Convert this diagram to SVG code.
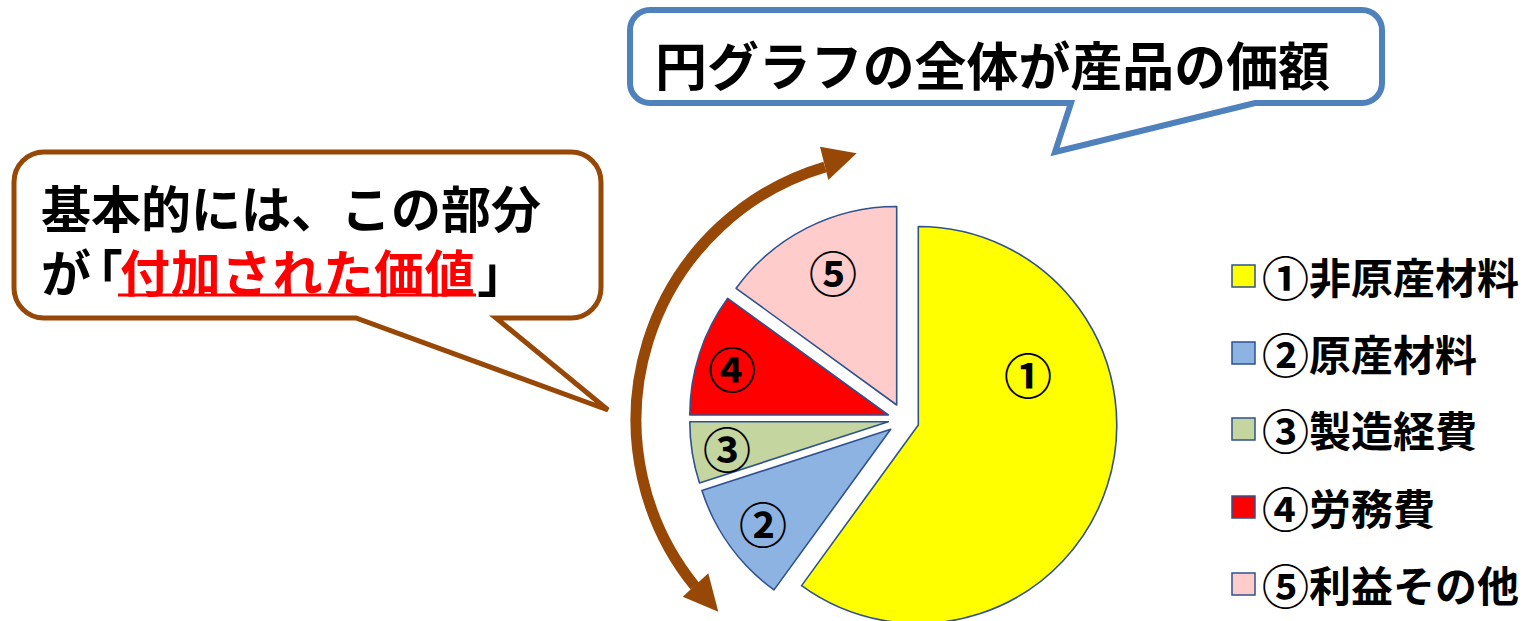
<svg xmlns="http://www.w3.org/2000/svg" width="1528" height="621" viewBox="0 0 1528 621">
<style>
.t{font-family:"Noto Sans CJK JP","Noto Sans CJK SC",sans-serif;font-weight:700;fill:#000}
.p{font-feature-settings:"palt"}
.sl{stroke:#2F528F;stroke-width:1.6;stroke-linejoin:round}
.lg{stroke:#2F528F;stroke-width:1.5}
.brown{fill:#974806}
.num{font-size:48px}
</style>
<rect width="1528" height="621" fill="#fff"/>
<g id="callout-top">
<path d="M650,10 H1362 A20,20 0 0 1 1382,30 V83 A20,20 0 0 1 1362,103 H1255 L1055,152 L1071,103 H650 A20,20 0 0 1 630,83 V30 A20,20 0 0 1 650,10 Z" fill="#fff" stroke="#4F81BD" stroke-width="6" stroke-linejoin="miter"/>
<text class="t" x="655" y="63" font-size="52" dominant-baseline="central" textLength="675" lengthAdjust="spacingAndGlyphs">円グラフの全体が産品の価額</text>
</g>
<g id="callout-left">
<path d="M44,152 H571 A30,30 0 0 1 601,182 V288 A30,30 0 0 1 571,318 H496 L608,410 L356,318 H44 A30,30 0 0 1 14,288 V182 A30,30 0 0 1 44,152 Z" fill="#fff" stroke="#974806" stroke-width="5"/>
<text class="t" font-size="50" dominant-baseline="central"><tspan x="41" y="206">基本的には、この部分</tspan><tspan x="41" y="270">が</tspan><tspan class="p" x="97" y="270">「</tspan><tspan x="120" y="270" style="fill:#FF0000" letter-spacing="0.8">付加された価値</tspan><tspan class="p" x="478" y="270">」</tspan></text>
<line x1="118" y1="295" x2="476" y2="295" stroke="#FF0000" stroke-width="3"/>
</g>
<g id="connectors">
<path d="M694.8,586.1 A264,264 0 0 1 825,166.9" fill="none" stroke="#974806" stroke-width="11"/>
<polygon class="brown" points="820,146.7 856.7,153.3 828.3,180"/>
<polygon class="brown" points="682.7,596.7 708.3,573.3 718.3,611.7"/>
</g>
<g id="pie">
<g id="slice1"><path class="sl" fill="#FFFF00" d="M918.3,425 L918.3,226.5 A198.5,198.5 0 1 1 801.6,585.6 Z"/><text class="t num" x="1028" y="373" text-anchor="middle" dominant-baseline="central">①</text></g>
<g id="slice2"><path class="sl" fill="#8DB3E2" d="M890.7,429.3 L774,589.9 A198.5,198.5 0 0 1 701.9,490.6 Z"/><text class="t num" x="763" y="522" text-anchor="middle" dominant-baseline="central">②</text></g>
<g id="slice3"><path class="sl" fill="#C4D59F" d="M888.3,421.7 L699.5,483 A198.5,198.5 0 0 1 689.8,421.7 Z"/><text class="t num" x="727" y="447" text-anchor="middle" dominant-baseline="central">③</text></g>
<g id="slice4"><path class="sl" fill="#FF0000" d="M888.3,415 L689.8,415 A198.5,198.5 0 0 1 727.7,298.3 Z"/><text class="t num" x="732" y="367" text-anchor="middle" dominant-baseline="central">④</text></g>
<g id="slice5"><path class="sl" fill="#FFCCCC" d="M896.7,405 L736.1,288.3 A198.5,198.5 0 0 1 896.7,206.5 Z"/><text class="t num" x="833" y="271" text-anchor="middle" dominant-baseline="central">⑤</text></g>
</g>
<g id="legend">
<g id="legend1"><rect class="lg" x="1232" y="265" width="23" height="22" fill="#FFFF00"/><text class="t" y="275" font-size="42" dominant-baseline="central"><tspan x="1262" font-size="47">①</tspan><tspan x="1309">非原産材料</tspan></text></g>
<g id="legend2"><rect class="lg" x="1232" y="342" width="23" height="22" fill="#8DB3E2"/><text class="t" y="352" font-size="42" dominant-baseline="central"><tspan x="1262" font-size="47">②</tspan><tspan x="1309">原産材料</tspan></text></g>
<g id="legend3"><rect class="lg" x="1232" y="418" width="23" height="22" fill="#C4D59F"/><text class="t" y="428" font-size="42" dominant-baseline="central"><tspan x="1262" font-size="47">③</tspan><tspan x="1309">製造経費</tspan></text></g>
<g id="legend4"><rect class="lg" x="1232" y="496" width="23" height="22" fill="#FF0000"/><text class="t" y="506" font-size="42" dominant-baseline="central"><tspan x="1262" font-size="47">④</tspan><tspan x="1309">労務費</tspan></text></g>
<g id="legend5"><rect class="lg" x="1232" y="573" width="23" height="22" fill="#FFCCCC"/><text class="t" y="583" font-size="42" dominant-baseline="central"><tspan x="1262" font-size="47">⑤</tspan><tspan x="1309">利益その他</tspan></text></g>
</g>
</svg>
